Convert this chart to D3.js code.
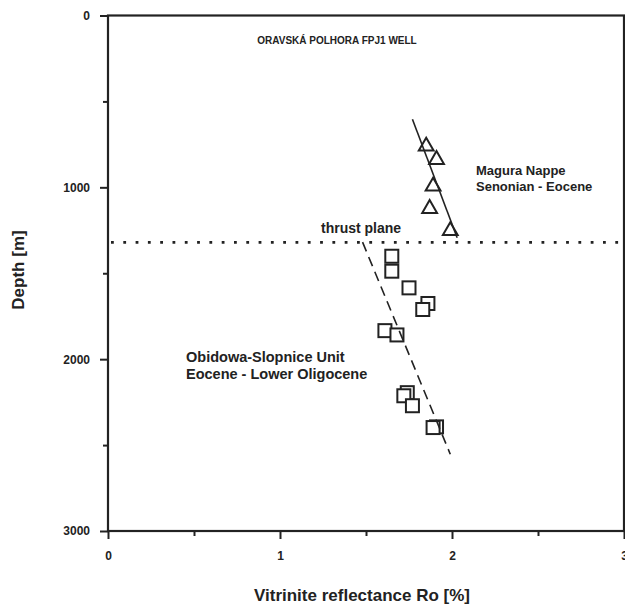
<!DOCTYPE html>
<html>
<head>
<meta charset="utf-8">
<script src="https://cdn.jsdelivr.net/npm/d3@7"></script>
<style>
  body { margin: 0; background: #fff; }
  svg text { font-family: "Liberation Sans", Arial, sans-serif; font-weight: bold; fill: #222; }
</style>
</head>
<body>
<svg id="chart" width="625" height="608"></svg>
<script>
// Magura Nappe samples (triangles): vitrinite reflectance [%], depth [m]
const maguraRo    = [1.85, 1.91, 1.89, 1.87, 1.99];
const maguraDepth = [755, 833, 988, 1118, 1247];

// Obidowa-Slopnice Unit samples (squares)
const obidowaRo    = [1.65, 1.65, 1.75, 1.86, 1.83, 1.61, 1.68, 1.74, 1.72, 1.77, 1.91, 1.89];
const obidowaDepth = [1401, 1488, 1585, 1676, 1711, 1834, 1859, 2195, 2213, 2271, 2394, 2398];

// trend lines [Ro, depth]
const maguraTrend  = [[1.77, 604], [2.03, 1293]];
const obidowaTrend = [[1.48, 1319], [1.99, 2553]];

const thrustDepth = 1320;

const xTicks = [0, 1, 2, 3];
const xMinor = [0.5, 1.5, 2.5];
const yTicks = [0, 1000, 2000, 3000];
const yMinor = [500, 1500, 2500];

const svg = d3.select("#chart");
const margin = {top: 15.5, right: 1, bottom: 77, left: 108},
    width = 625 - margin.left - margin.right,
    height = 608 - margin.top - margin.bottom;

const g = svg.append("g").attr("transform", "translate(" + margin.left + "," + margin.top + ")");

const x = d3.scaleLinear().domain([0, 3]).range([0, width]);
const y = d3.scaleLinear().domain([0, 3000]).range([0, height]);

const ink = "#222";

// axes: major + minor ticks, outward
g.append("g")
    .attr("transform", "translate(0," + height + ")")
    .call(d3.axisBottom(x).tickValues(xTicks).tickSize(8).tickPadding(12).tickFormat(d3.format("d")))
    .call(a => a.select(".domain").remove())
    .call(a => a.selectAll("line").attr("stroke", ink).attr("stroke-width", 2))
    .call(a => a.selectAll("text").attr("font-size", 12).attr("fill", ink).attr("font-family", null));
g.append("g")
    .attr("transform", "translate(0," + height + ")")
    .call(d3.axisBottom(x).tickValues(xMinor).tickSize(5).tickFormat(""))
    .call(a => a.select(".domain").remove())
    .call(a => a.selectAll("line").attr("stroke", ink).attr("stroke-width", 2));

g.append("g")
    .call(d3.axisLeft(y).tickValues(yTicks).tickSize(8).tickPadding(10).tickFormat(d3.format("d")))
    .call(a => a.select(".domain").remove())
    .call(a => a.selectAll("line").attr("stroke", ink).attr("stroke-width", 2))
    .call(a => a.selectAll("text").attr("font-size", 12).attr("fill", ink).attr("font-family", null));
g.append("g")
    .call(d3.axisLeft(y).tickValues(yMinor).tickSize(5).tickFormat(""))
    .call(a => a.select(".domain").remove())
    .call(a => a.selectAll("line").attr("stroke", ink).attr("stroke-width", 2));

// frame
g.append("rect")
    .attr("width", width)
    .attr("height", height)
    .attr("fill", "none")
    .attr("stroke", ink)
    .attr("stroke-width", 2.2);

// thrust plane (dotted)
g.append("line")
    .attr("x1", 0).attr("x2", width)
    .attr("y1", y(thrustDepth)).attr("y2", y(thrustDepth))
    .attr("stroke", ink)
    .attr("stroke-width", 2.8)
    .attr("stroke-dasharray", "2.8,9.5")
    .attr("stroke-dashoffset", -3);

// squares
const sq = 13;
g.append("g")
    .selectAll("rect")
    .data(d3.range(obidowaRo.length))
    .enter().append("rect")
    .attr("x", i => x(obidowaRo[i]) - sq / 2)
    .attr("y", i => y(obidowaDepth[i]) - sq / 2)
    .attr("width", sq)
    .attr("height", sq)
    .attr("fill", "#fff")
    .attr("stroke", ink)
    .attr("stroke-width", 2);

// triangles
const tri = d3.symbol().type(d3.symbolTriangle).size(95);
g.append("g")
    .selectAll("path")
    .data(d3.range(maguraRo.length))
    .enter().append("path")
    .attr("d", tri)
    .attr("transform", i => "translate(" + x(maguraRo[i]) + "," + (y(maguraDepth[i]) + 1) + ")")
    .attr("fill", "#fff")
    .attr("stroke", ink)
    .attr("stroke-width", 2);

// trend lines
const line = d3.line().x(d => x(d[0])).y(d => y(d[1]));
g.append("path")
    .attr("d", line(maguraTrend))
    .attr("fill", "none")
    .attr("stroke", ink)
    .attr("stroke-width", 1.6);
g.append("path")
    .attr("d", line(obidowaTrend))
    .attr("fill", "none")
    .attr("stroke", ink)
    .attr("stroke-width", 1.6)
    .attr("stroke-dasharray", "10,6");

// texts
svg.append("text")
    .attr("x", 337).attr("y", 44)
    .attr("text-anchor", "middle")
    .attr("font-size", 10)
    .text("ORAVSKÁ POLHORA FPJ1 WELL");

svg.append("text").attr("x", 476).attr("y", 175).attr("font-size", 13).text("Magura Nappe");
svg.append("text").attr("x", 476).attr("y", 191).attr("font-size", 13).text("Senonian - Eocene");
svg.append("text").attr("x", 321).attr("y", 233).attr("font-size", 14).text("thrust plane");
svg.append("text").attr("x", 186).attr("y", 362).attr("font-size", 14.5).text("Obidowa-Slopnice Unit");
svg.append("text").attr("x", 186).attr("y", 379).attr("font-size", 14.5).text("Eocene - Lower Oligocene");

svg.append("text")
    .attr("transform", "translate(24,270)rotate(-90)")
    .attr("text-anchor", "middle")
    .attr("font-size", 17)
    .text("Depth [m]");

svg.append("text")
    .attr("x", 362).attr("y", 601)
    .attr("text-anchor", "middle")
    .attr("font-size", 17)
    .text("Vitrinite reflectance Ro [%]");
</script>
</body>
</html>
